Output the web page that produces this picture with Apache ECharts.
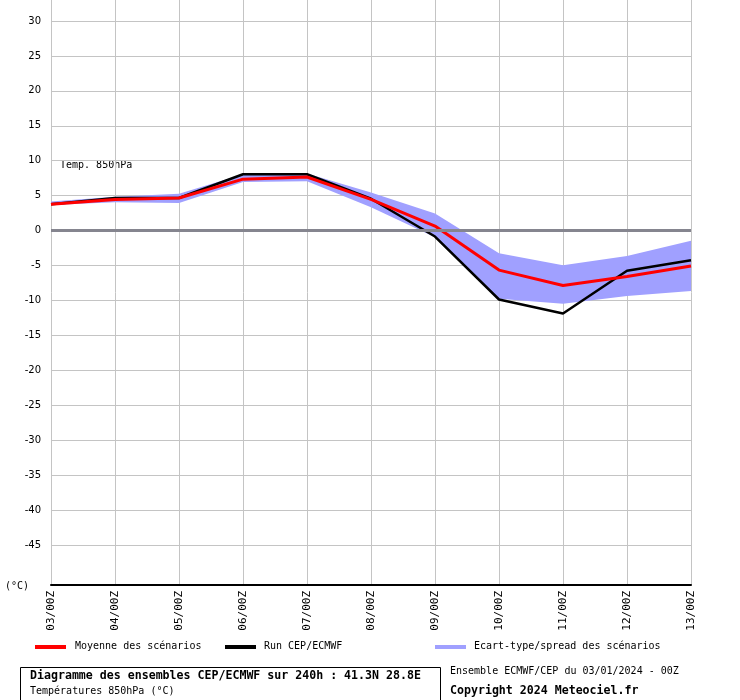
<!DOCTYPE html>
<html>
<head>
<meta charset="utf-8">
<script src="https://cdn.jsdelivr.net/npm/echarts@6/dist/echarts.min.js"></script>
<style>html,body{margin:0;padding:0;background:#fff}#c{width:740px;height:700px}</style>
</head>
<body>
<div id="c"></div>
<script>
const categories = ['03/00Z','04/00Z','05/00Z','06/00Z','07/00Z','08/00Z','09/00Z','10/00Z','11/00Z','12/00Z','13/00Z'];
const meanValues = [3.7, 4.4, 4.6, 7.3, 7.6, 4.4, 0.6, -5.7, -7.9, -6.6, -5.1];
const runValues  = [3.7, 4.6, 4.6, 8.0, 8.0, 4.5, -0.9, -9.9, -11.9, -5.8, -4.3];
const spreadLow  = [3.6, 4.0, 3.9, 6.9, 7.0, 3.3, -1.0, -9.8, -10.5, -9.4, -8.7];
const spreadHigh = [4.1, 4.8, 5.2, 8.0, 8.1, 5.4, 2.4, -3.3, -5.0, -3.7, -1.5];
const yTickMin = -45, yTickMax = 30, yTickStep = 5;
const plotMin = -50.7, plotMax = 32.9;

const MONO = '"DejaVu Sans Mono", "Liberation Mono", monospace';
const spreadDiff = spreadHigh.map((v, i) => +(v - spreadLow[i]).toFixed(2));

const chart = echarts.init(document.getElementById('c'), null, {renderer: 'canvas'});
chart.setOption({
  backgroundColor: '#ffffff',
  animation: false,
  grid: [
    {left: 51, right: 49, top: 0, bottom: 115},
    {left: 51, right: 49, top: 21, bottom: 155}
  ],
  xAxis: [
    {
      gridIndex: 0, type: 'category', data: categories, boundaryGap: false,
      axisLine: {show: true, onZero: false, lineStyle: {color: '#000', width: 2}},
      axisTick: {show: false},
      axisLabel: {rotate: 90, margin: 6, fontFamily: MONO, fontSize: 11, color: '#000'},
      splitLine: {show: true, lineStyle: {color: '#c4c4c4', width: 1}}
    },
    {
      gridIndex: 1, type: 'category', data: categories, boundaryGap: false, show: false
    }
  ],
  yAxis: [
    {gridIndex: 0, type: 'value', min: plotMin, max: plotMax, show: false, splitLine: {show: false}},
    {
      gridIndex: 1, type: 'value', min: yTickMin, max: yTickMax, interval: yTickStep,
      axisLine: {show: false}, axisTick: {show: false},
      axisLabel: {margin: 10, fontFamily: '"DejaVu Sans", sans-serif', fontSize: 10, color: '#000'},
      splitLine: {show: true, lineStyle: {color: '#c4c4c4', width: 1}}
    }
  ],
  series: [
    {
      name: 'low', type: 'line', xAxisIndex: 0, yAxisIndex: 0, data: spreadLow, stack: 'spread', stackStrategy: 'all',
      symbol: 'none', lineStyle: {width: 0, opacity: 0}, silent: true, z: 2
    },
    {
      name: 'Ecart-type/spread des scénarios', type: 'line', xAxisIndex: 0, yAxisIndex: 0, data: spreadDiff, stack: 'spread', stackStrategy: 'all',
      symbol: 'none', lineStyle: {width: 0, opacity: 0}, areaStyle: {color: '#a0a0ff', opacity: 1}, silent: true, z: 2,
      markLine: {
        silent: true, symbol: 'none', label: {show: false},
        lineStyle: {color: '#85858f', width: 3, type: 'solid'},
        data: [{yAxis: 0}]
      }
    },
    {
      name: 'Run CEP/ECMWF', type: 'line', xAxisIndex: 0, yAxisIndex: 0, data: runValues,
      symbol: 'none', lineStyle: {color: '#000', width: 2.5}, z: 3
    },
    {
      name: 'Moyenne des scénarios', type: 'line', xAxisIndex: 0, yAxisIndex: 0, data: meanValues,
      symbol: 'none', lineStyle: {color: '#ff0000', width: 3}, z: 4
    }
  ],
  graphic: [
    {type: 'text', left: 60, top: 160, style: {text: 'Temp. 850hPa', font: '10px ' + MONO, fill: '#000'}},
    {type: 'text', left: 5, top: 581, style: {text: '(°C)', font: '10px ' + MONO, fill: '#000'}},
    {type: 'rect', shape: {x: 35, y: 645, width: 31, height: 4}, style: {fill: '#ff0000'}},
    {type: 'text', left: 75, top: 641, style: {text: 'Moyenne des scénarios', font: '10px ' + MONO, fill: '#000'}},
    {type: 'rect', shape: {x: 225, y: 645, width: 31, height: 4}, style: {fill: '#000'}},
    {type: 'text', left: 264, top: 641, style: {text: 'Run CEP/ECMWF', font: '10px ' + MONO, fill: '#000'}},
    {type: 'rect', shape: {x: 435, y: 645, width: 31, height: 4}, style: {fill: '#a0a0ff'}},
    {type: 'text', left: 474, top: 641, style: {text: 'Ecart-type/spread des scénarios', font: '10px ' + MONO, fill: '#000'}},
    {type: 'rect', shape: {x: 20.5, y: 667.5, width: 420, height: 40}, style: {fill: 'none', stroke: '#000', lineWidth: 1}},
    {type: 'text', left: 30, top: 670, style: {text: 'Diagramme des ensembles CEP/ECMWF sur 240h : 41.3N 28.8E', font: 'bold 11.6px ' + MONO, fill: '#000'}},
    {type: 'text', left: 30, top: 686, style: {text: 'Températures 850hPa (°C)', font: '10px ' + MONO, fill: '#000'}},
    {type: 'text', left: 450, top: 666, style: {text: 'Ensemble ECMWF/CEP du 03/01/2024 - 00Z', font: '10px ' + MONO, fill: '#000'}},
    {type: 'text', left: 450, top: 685, style: {text: 'Copyright 2024 Meteociel.fr', font: 'bold 11.6px ' + MONO, fill: '#000'}}
  ]
});
</script>
</body>
</html>
